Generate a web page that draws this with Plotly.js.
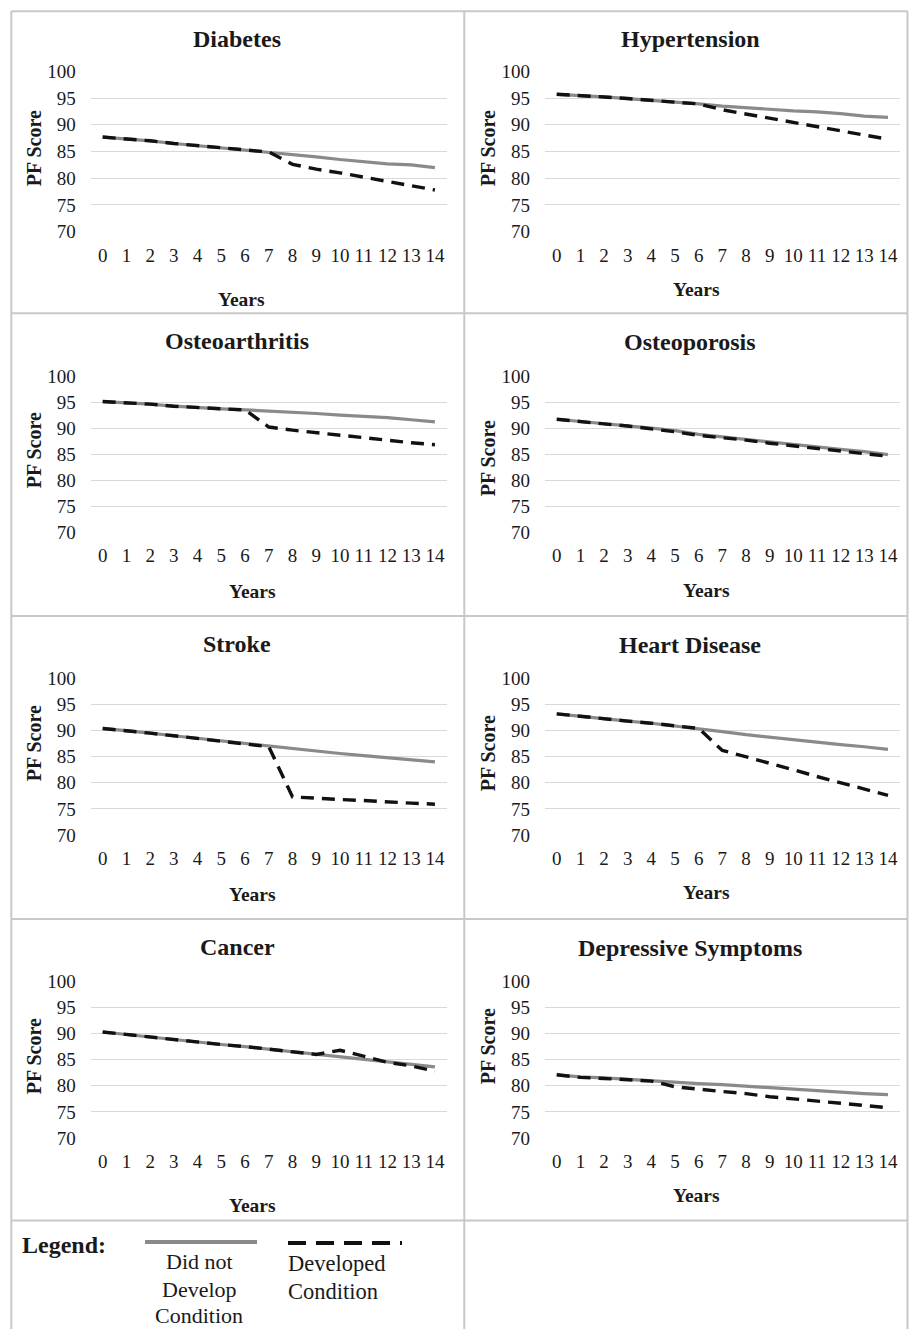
<!DOCTYPE html>
<html>
<head>
<meta charset="utf-8">
<script src="https://cdn.plot.ly/plotly-3.0.1.min.js"></script>
<style>
  html, body { margin: 0; padding: 0; background: #fff; }
  #chart { width: 909px; height: 1329px; }
</style>
</head>
<body>
<div id="chart"></div>
<script>
// ---------------- DATA ----------------
const years = [0, 1, 2, 3, 4, 5, 6, 7, 8, 9, 10, 11, 12, 13, 14];
const conditionTitles = ["Diabetes", "Hypertension", "Osteoarthritis", "Osteoporosis",
                         "Stroke", "Heart Disease", "Cancer", "Depressive Symptoms"];
const seriesNames = ["Did not Develop Condition", "Developed Condition"];
const yTicks = [70, 75, 80, 85, 90, 95, 100];

const diabetesNo      = [87.7, 87.4, 87.0, 86.5, 86.1, 85.7, 85.3, 84.9, 84.4, 84.0, 83.5, 83.1, 82.7, 82.5, 82.0];
const diabetesYes     = [87.7, 87.4, 87.0, 86.5, 86.1, 85.7, 85.3, 84.9, 82.6, 81.7, 81.0, 80.2, 79.4, 78.6, 77.8];
const hypertensionNo  = [95.7, 95.5, 95.2, 94.9, 94.6, 94.3, 93.9, 93.5, 93.2, 92.8, 92.6, 92.4, 92.1, 91.6, 91.4];
const hypertensionYes = [95.7, 95.5, 95.2, 94.9, 94.6, 94.3, 93.9, 92.8, 92.0, 91.2, 90.4, 89.6, 88.8, 88.1, 87.3];
const osteoarthritisNo  = [95.1, 94.9, 94.6, 94.2, 93.9, 93.7, 93.5, 93.3, 93.0, 92.8, 92.5, 92.3, 92.0, 91.6, 91.2];
const osteoarthritisYes = [95.1, 94.9, 94.6, 94.2, 93.9, 93.7, 93.5, 90.2, 89.6, 89.1, 88.6, 88.1, 87.6, 87.2, 86.8];
const osteoporosisNo  = [91.7, 91.3, 90.9, 90.5, 90.0, 89.5, 88.8, 88.3, 87.8, 87.3, 86.8, 86.4, 85.9, 85.5, 84.9];
const osteoporosisYes = [91.7, 91.2, 90.8, 90.4, 89.9, 89.3, 88.6, 88.2, 87.7, 87.1, 86.6, 86.1, 85.6, 85.1, 84.6];
const strokeNo        = [90.4, 90.0, 89.5, 89.0, 88.5, 88.0, 87.5, 87.0, 86.6, 86.1, 85.6, 85.2, 84.8, 84.5, 84.0];
const strokeYes       = [90.4, 90.0, 89.5, 89.0, 88.5, 88.0, 87.5, 86.9, 77.3, 77.0, 76.8, 76.6, 76.3, 76.1, 75.9];
const heartNo         = [93.2, 92.7, 92.3, 91.8, 91.4, 90.9, 90.4, 89.8, 89.2, 88.7, 88.2, 87.8, 87.3, 86.9, 86.4];
const heartYes        = [93.2, 92.7, 92.3, 91.8, 91.4, 90.9, 90.4, 86.2, 85.0, 83.7, 82.5, 81.2, 80.0, 78.8, 77.6];
const cancerNo        = [90.3, 89.8, 89.3, 88.9, 88.4, 87.9, 87.5, 87.0, 86.5, 86.0, 85.5, 85.0, 84.5, 84.1, 83.6];
const cancerYes       = [90.3, 89.8, 89.3, 88.9, 88.4, 87.9, 87.5, 87.0, 86.5, 86.0, 86.8, 85.7, 84.5, 83.8, 82.8];
const depressiveNo    = [82.1, 81.7, 81.5, 81.2, 80.9, 80.6, 80.4, 80.2, 79.9, 79.7, 79.3, 79.0, 78.8, 78.5, 78.3];
const depressiveYes   = [82.1, 81.6, 81.4, 81.1, 80.9, 79.8, 79.3, 78.9, 78.5, 77.9, 77.5, 77.1, 76.6, 76.2, 75.8];

const panelData = [
  [diabetesNo, diabetesYes], [hypertensionNo, hypertensionYes],
  [osteoarthritisNo, osteoarthritisYes], [osteoporosisNo, osteoporosisYes],
  [strokeNo, strokeYes], [heartNo, heartYes],
  [cancerNo, cancerYes], [depressiveNo, depressiveYes]
];

// ---------------- LAYOUT GEOMETRY (pixels) ----------------
const W = 909, H = 1329;
const px = x => x / W;
const py = y => 1 - y / H;

const colX = [[90.8, 446.8], [544.9, 899.8]];
const rowY = [[71.3, 231.7], [376, 532.3], [678.3, 835], [981.3, 1138]];
const titleY = [[39, 39], [341, 341.5], [644, 645], [947, 948]];
const titleX = [237, 690];
const yearsY = [[299, 289], [591, 590], [894, 892], [1205, 1195]];
const yearsX = [[242, 696], [252, 706], [252, 706], [252, 696]];
const pfX = [34.3, 488.3];
const pfY = [[148, 148], [450, 458], [743, 753], [1056, 1046]];

const serif = "Liberation Serif, Times New Roman, serif";
const ink = "#1a1a1a";

const data = [];
const layout = {
  width: W, height: H,
  margin: { l: 0, r: 0, t: 0, b: 0 },
  paper_bgcolor: "#ffffff",
  plot_bgcolor: "#ffffff",
  showlegend: false,
  font: { family: serif, color: ink },
  annotations: [],
  shapes: []
};

for (let i = 0; i < 8; i++) {
  const r = Math.floor(i / 2), c = i % 2;
  const n = i + 1;
  const xa = n === 1 ? "x" : "x" + n;
  const ya = n === 1 ? "y" : "y" + n;
  const [no, yes] = panelData[i];

  data.push({
    x: years, y: no, xaxis: xa, yaxis: ya, type: "scatter", mode: "lines",
    name: seriesNames[0],
    line: { color: "#8a8a8a", width: 3.2 }
  });
  data.push({
    x: years, y: yes, xaxis: xa, yaxis: ya, type: "scatter", mode: "lines",
    name: seriesNames[1],
    line: { color: "#111111", width: 3.4, dash: "13px,8px" }
  });

  layout["xaxis" + (n === 1 ? "" : n)] = {
    domain: [px(colX[c][0]), px(colX[c][1])],
    anchor: ya,
    range: [-0.5, 14.5],
    tickmode: "array", tickvals: years, ticktext: years.map(String),
    showgrid: false, zeroline: false, showline: false, ticks: "",
    ticklabelstandoff: 10,
    tickfont: { family: serif, size: 19, color: ink },
    fixedrange: true
  };
  layout["yaxis" + (n === 1 ? "" : n)] = {
    domain: [py(rowY[r][1]), py(rowY[r][0])],
    anchor: xa,
    range: [70, 100],
    tickmode: "array", tickvals: yTicks, ticktext: yTicks.map(String),
    showgrid: true, gridcolor: "#d9d9d9", gridwidth: 1,
    zeroline: false, showline: false, ticks: "",
    ticklabelstandoff: 14,
    tickfont: { family: serif, size: 19, color: ink },
    fixedrange: true
  };

  layout.annotations.push({
    text: "<b>" + conditionTitles[i] + "</b>",
    xref: "paper", yref: "paper",
    x: px(titleX[c]), y: py(titleY[r][c]),
    xanchor: "center", yanchor: "middle", showarrow: false,
    font: { family: serif, size: 24, color: ink }
  });
  layout.annotations.push({
    text: "<b>Years</b>",
    xref: "paper", yref: "paper",
    x: px(yearsX[r][c]), y: py(yearsY[r][c]),
    xanchor: "center", yanchor: "middle", showarrow: false,
    font: { family: serif, size: 19.5, color: ink }
  });
  layout.annotations.push({
    text: "<b>PF Score</b>",
    xref: "paper", yref: "paper", textangle: -90,
    x: px(pfX[c]), y: py(pfY[r][c]),
    xanchor: "center", yanchor: "middle", showarrow: false,
    font: { family: serif, size: 20, color: ink }
  });
}

// ---------------- TABLE BORDERS ----------------
const borderColor = "#c8c8c8";
const bLeft = 11.3, bRight = 907.5, bTop = 11.3, bMid = 464.3;
[bLeft, bMid, bRight].forEach(x => {
  layout.shapes.push({ type: "line", xref: "paper", yref: "paper",
    x0: px(x), x1: px(x), y0: py(bTop), y1: py(H + 2),
    line: { color: borderColor, width: 2 } });
});
[bTop, 313.3, 616, 919, 1220.5].forEach(y => {
  layout.shapes.push({ type: "line", xref: "paper", yref: "paper",
    x0: px(bLeft), x1: px(bRight), y0: py(y), y1: py(y),
    line: { color: borderColor, width: 2 } });
});

// ---------------- LEGEND CELL ----------------
layout.annotations.push({
  text: "<b>Legend:</b>", xref: "paper", yref: "paper",
  x: px(20), y: py(1245), xanchor: "left", yanchor: "middle", showarrow: false,
  font: { family: serif, size: 24, color: ink }
});
layout.shapes.push({ type: "line", xref: "paper", yref: "paper",
  x0: px(145), x1: px(257), y0: py(1242), y1: py(1242),
  line: { color: "#8a8a8a", width: 4 } });
layout.shapes.push({ type: "line", xref: "paper", yref: "paper",
  x0: px(288), x1: px(402), y0: py(1243), y1: py(1243),
  line: { color: "#111111", width: 4, dash: "18px,10px" } });

const legendNoLines = ["Did not", "Develop", "Condition"];
const legendNoY = [1261, 1289, 1315];
legendNoLines.forEach((t, k) => {
  layout.annotations.push({
    text: t, xref: "paper", yref: "paper",
    x: px(199), y: py(legendNoY[k]), xanchor: "center", yanchor: "middle", showarrow: false,
    font: { family: serif, size: 22, color: ink }
  });
});
const legendYesLines = ["Developed", "Condition"];
const legendYesY = [1263, 1291];
legendYesLines.forEach((t, k) => {
  layout.annotations.push({
    text: t, xref: "paper", yref: "paper",
    x: px(286), y: py(legendYesY[k]), xanchor: "left", yanchor: "middle", showarrow: false,
    font: { family: serif, size: 22.5, color: ink }
  });
});

Plotly.newPlot("chart", data, layout, { staticPlot: true, displayModeBar: false });
</script>
</body>
</html>
